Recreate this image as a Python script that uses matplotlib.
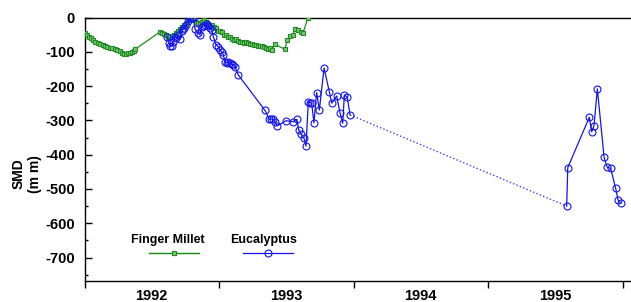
import matplotlib
matplotlib.use("Agg")
import matplotlib.pyplot as plt
from matplotlib.ticker import FixedLocator, NullFormatter, FixedFormatter

plt.rcParams['font.family'] = ['Liberation Sans', 'DejaVu Sans']
plt.rcParams['font.weight'] = 'bold'
plt.rcParams['axes.unicode_minus'] = False

# ---------------- data (decimal years, SMD in mm) ----------------
millet_t = [1992.004, 1992.019, 1992.033, 1992.048, 1992.063, 1992.078, 1992.097, 1992.115,
            1992.134, 1992.152, 1992.171, 1992.190, 1992.208, 1992.227, 1992.245, 1992.264,
            1992.279, 1992.294, 1992.309, 1992.323, 1992.338, 1992.353, 1992.368, 1992.379,
            1992.561, 1992.576, 1992.591, 1992.606, 1992.621, 1992.636, 1992.651, 1992.665,
            1992.680, 1992.695, 1992.710, 1992.725, 1992.740, 1992.755, 1992.770, 1992.784,
            1992.799, 1992.814, 1992.829, 1992.844, 1992.859, 1992.874, 1992.888, 1992.903,
            1992.918, 1992.933, 1992.948, 1992.963, 1992.978, 1992.993, 1993.007, 1993.022,
            1993.037, 1993.052, 1993.067, 1993.082, 1993.097, 1993.112, 1993.126, 1993.141,
            1993.156, 1993.171, 1993.186, 1993.201, 1993.216, 1993.230, 1993.245, 1993.260,
            1993.275, 1993.290, 1993.305, 1993.320, 1993.335, 1993.349, 1993.364, 1993.379,
            1993.394, 1993.416, 1993.491, 1993.506, 1993.528, 1993.550, 1993.565, 1993.587,
            1993.610, 1993.625, 1993.662]
millet_smd = [-44, -50, -56, -61, -66, -70, -74, -77,
              -80, -82, -85, -88, -90, -93, -96, -99,
              -103, -107, -106, -104, -103, -101, -97, -92,
              -42, -44, -48, -52, -56, -55, -54, -52,
              -45, -38, -34, -28, -22, -18, -8, 0,
              0, -5, -12, -16, -20, -14, -8, -14,
              -20, -24, -22, -28, -30, -38, -40, -42,
              -50, -52, -56, -58, -62, -65, -62, -68,
              -72, -70, -74, -72, -75, -78, -76, -80,
              -80, -82, -83, -84, -85, -90, -92, -88,
              -94, -78, -93, -65, -55, -52, -33, -35,
              -42, -45, 0]

euc_t_a = [1992.616, 1992.628, 1992.636, 1992.648, 1992.660, 1992.673, 1992.684, 1992.697,
           1992.710, 1992.723, 1992.732, 1992.740, 1992.755, 1992.770, 1992.784, 1992.799,
           1992.809, 1992.822, 1992.844, 1992.859, 1992.871, 1992.883, 1992.896, 1992.909,
           1992.920, 1992.933, 1992.946, 1992.958, 1992.978, 1992.995, 1993.007, 1993.019,
           1993.032, 1993.045, 1993.057, 1993.069, 1993.082, 1993.094, 1993.106, 1993.119,
           1993.144, 1993.342, 1993.374, 1993.387, 1993.399, 1993.416, 1993.433, 1993.498,
           1993.552, 1993.578, 1993.593, 1993.610, 1993.632, 1993.647, 1993.664, 1993.677,
           1993.689, 1993.706, 1993.726, 1993.746, 1993.781, 1993.820, 1993.838, 1993.875,
           1993.900, 1993.920, 1993.932, 1993.954, 1993.974]
euc_smd_a = [-56, -75, -82, -83, -70, -56, -60, -52,
             -64, -40, -34, -32, -22, -10, 0, 0,
             -2, -34, -44, -51, -27, -24, -22, -19,
             -26, -32, -36, -56, -80, -85, -95, -100,
             -109, -129, -132, -131, -132, -135, -138, -143,
             -168, -271, -297, -296, -297, -304, -316, -301,
             -304, -297, -328, -340, -352, -375, -245, -248,
             -250, -307, -219, -270, -147, -216, -250, -229,
             -279, -308, -226, -233, -284]

euc_t_b = [1995.585, 1995.593, 1995.753, 1995.771, 1995.788, 1995.813,
           1995.863, 1995.887, 1995.912, 1995.949, 1995.967, 1995.987]
euc_smd_b = [-550, -438, -291, -333, -316, -208,
             -408, -437, -440, -498, -532, -542]

year_ticks = [1992, 1993, 1994, 1995, 1996]
year_labels = ['1992', '1993', '1994', '1995']
smd_ticks = [0, -100, -200, -300, -400, -500, -600, -700]

GREEN = '#1f8c1f'
GREEN_FILL = '#7cc47c'
BLUE = '#1414f0'

fig = plt.figure(figsize=(6.31, 3.02), dpi=100)
ax = fig.add_axes([84.5 / 631, 1 - 280.5 / 302, 1 - 84.5 / 631, (280.5 - 17.5) / 302])

l_millet, = ax.plot(millet_t, millet_smd, color=GREEN, lw=0.9, marker='s', ms=3.4,
                    mfc=GREEN_FILL, mec=GREEN, mew=0.8, zorder=3)
l_euc, = ax.plot(euc_t_a, euc_smd_a, color=BLUE, lw=0.9, marker='o', ms=5,
                 mfc='none', mec=BLUE, mew=0.8, zorder=4)
ax.plot(euc_t_b, euc_smd_b, color=BLUE, lw=0.9, marker='o', ms=5,
        mfc='none', mec=BLUE, mew=0.8, zorder=4)
ax.plot([euc_t_a[-1], euc_t_b[0]], [euc_smd_a[-1], euc_smd_b[0]], color='#3c3cf5',
        lw=1.0, linestyle=(0, (1, 1.6)), zorder=2)

ax.set_xlim(1992.0, 1992 + (631 - 84.5) / 134.5)
ax.set_ylim(-767, 0)

ax.spines['right'].set_visible(False)
for s in ['left', 'bottom', 'top']:
    ax.spines[s].set_linewidth(1.0)
    ax.spines[s].set_color('black')

ax.xaxis.set_major_locator(FixedLocator(year_ticks))
ax.xaxis.set_major_formatter(NullFormatter())
ax.xaxis.set_minor_locator(FixedLocator([y + 0.5 for y in year_ticks[:-1]]))
ax.xaxis.set_minor_formatter(FixedFormatter(year_labels))
ax.tick_params(axis='x', which='major', direction='out', length=5, width=1)
ax.tick_params(axis='x', which='minor', length=0, pad=6, labelsize=10.5)

ax.yaxis.set_major_locator(FixedLocator(smd_ticks))
ax.yaxis.set_minor_locator(FixedLocator([v - 50 for v in smd_ticks]))
ax.tick_params(axis='y', which='major', direction='in', length=5, width=1, pad=7, labelsize=10.5)
ax.tick_params(axis='y', which='minor', direction='in', length=2.5, width=1)
for lab in ax.get_yticklabels() + ax.get_xticklabels(minor=True):
    lab.set_fontweight('bold')

fig.text(26.5 / 631, 1 - 174 / 302, 'SMD\n(m m)', rotation=90, ha='center', va='center',
         fontsize=10, fontweight='bold', multialignment='center', linespacing=1.25)

leg1 = fig.legend(handles=[l_millet], labels=[''], loc='center',
                  bbox_to_anchor=(173.5 / 631, 1 - 254 / 302), frameon=False,
                  handlelength=4.0, handletextpad=0, borderpad=0, fontsize=9)
fig.add_artist(leg1)
fig.legend(handles=[l_euc], labels=[''], loc='center',
           bbox_to_anchor=(268.3 / 631, 1 - 254 / 302), frameon=False,
           handlelength=4.0, handletextpad=0, borderpad=0, fontsize=9)
fig.text(167.5 / 631, 1 - 242.5 / 302, 'Finger Millet', ha='center', va='baseline',
         fontsize=9, fontweight='bold')
fig.text(263.7 / 631, 1 - 242.5 / 302, 'Eucalyptus', ha='center', va='baseline',
         fontsize=9, fontweight='bold')

fig.savefig('out.png', dpi=100)
